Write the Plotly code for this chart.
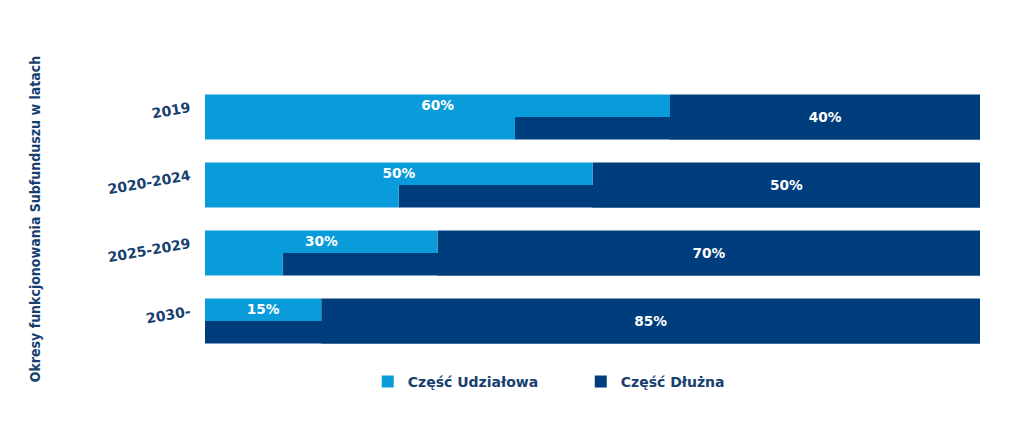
import plotly.graph_objects as go

# Okresy i udziały (%)
okresy = ["2019", "2020-2024", "2025-2029", "2030-"]
udzialowa = [60, 50, 30, 15]
dluzna = [40, 50, 70, 85]
# dolna połowa paska (przesunięty fragment części udziałowej)
udzialowa_dol = [40, 25, 10, 0]

LIGHT = "#0A9BDB"
DARK = "#003D7C"
NAVY_TXT = "#17406F"
FONT = "DejaVu Sans"

BAR_W = 0.66
HALF = BAR_W / 2

fig = go.Figure()

# dolna połowa: ciemne tło od końca dolnej części udziałowej do 100%
fig.add_trace(go.Bar(
    y=okresy, x=[u + d - l for u, d, l in zip(udzialowa, dluzna, udzialowa_dol)],
    base=udzialowa_dol, orientation="h", showlegend=False,
    marker=dict(color=DARK, line=dict(width=0)),
    width=HALF, offset=0,
))

# Część Dłużna - pełna wysokość od końca części udziałowej do 100%
fig.add_trace(go.Bar(
    y=okresy, x=dluzna, base=udzialowa, orientation="h",
    name="Część Dłużna", legendrank=2,
    marker=dict(color=DARK, line=dict(width=0)),
    width=BAR_W,
    text=[f"{v}%" for v in dluzna], textposition="inside",
    insidetextanchor="middle", textangle=0,
    textfont=dict(family=FONT, size=15, color="white", weight="bold"),
))

# Część Udziałowa - górna połowa
fig.add_trace(go.Bar(
    y=okresy, x=udzialowa, orientation="h",
    name="Część Udziałowa", legendrank=1,
    marker=dict(color=LIGHT, line=dict(width=0)),
    width=HALF, offset=-HALF,
    text=[f"{v}%" for v in udzialowa], textposition="inside",
    insidetextanchor="middle", textangle=0,
    textfont=dict(family=FONT, size=15, color="white", weight="bold"),
))

# Część Udziałowa - dolna połowa
fig.add_trace(go.Bar(
    y=okresy, x=udzialowa_dol, orientation="h", showlegend=False,
    marker=dict(color=LIGHT, line=dict(width=0)),
    width=HALF, offset=0,
))

fig.update_layout(
    barmode="overlay",
    width=1016, height=433,
    paper_bgcolor="white", plot_bgcolor="white",
    margin=dict(l=197, r=44, t=75, b=86),
    font=dict(family=FONT, size=13, color=NAVY_TXT),
    uniformtext=dict(minsize=10, mode="show"),
    showlegend=True,
    legend=dict(
        orientation="h", x=0.21, y=-0.04, xanchor="left", yanchor="top",
        font=dict(family=FONT, size=14, color=NAVY_TXT, weight="bold"),
        entrywidth=168, entrywidthmode="pixels",
        itemwidth=30,
    ),
    xaxis=dict(range=[0, 100], showgrid=False, zeroline=False,
               showticklabels=False, showline=False, fixedrange=True),
    yaxis=dict(autorange="reversed", showgrid=False, zeroline=False,
               showline=False, tickangle=-10, ticklabelstandoff=14,
               ticklabelshift=10,
               tickfont=dict(family=FONT, size=14, color=NAVY_TXT, weight="bold")),
    annotations=[dict(
        text="Okresy funkcjonowania Subfunduszu w latach",
        xref="paper", yref="paper", x=-0.219, y=0.5,
        xanchor="center", yanchor="middle", textangle=-90, showarrow=False,
        font=dict(family="DejaVu Sans Condensed", size=14, color=NAVY_TXT, weight="bold"),
    )],
)

fig.write_html("out.html")
